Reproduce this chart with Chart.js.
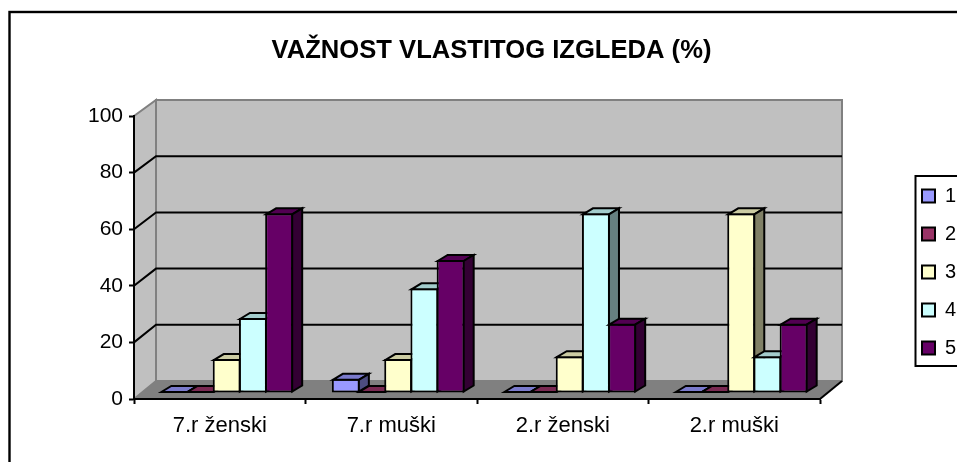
<!DOCTYPE html>
<html>
<head>
<meta charset="utf-8">
<script src="https://cdn.jsdelivr.net/npm/chart.js@4"></script>
<style>
html,body{margin:0;padding:0;background:#fff;overflow:hidden}
canvas{display:block}
</style>
</head>
<body>
<canvas id="c" width="957" height="462"></canvas>
<script>
const categories = ["7.r ženski", "7.r muški", "2.r ženski", "2.r muški"];
const seriesNames = ["1", "2", "3", "4", "5"];
const values1 = [0, 5, 0, 0];
const values2 = [0, 0, 0, 0];
const values3 = [12, 12, 13, 63.5];
const values4 = [26.5, 37, 63.5, 13];
const values5 = [63.5, 47, 24.5, 24.5];
const seriesValues = [values1, values2, values3, values4, values5];
const seriesColors = ["#9999FF", "#993366", "#FFFFCC", "#CCFFFF", "#660066"];
const topColors = ["#7A7ACC", "#7A2952", "#CCCCA3", "#A3CCCC", "#520052"];
const sideColors = ["#4D4D80", "#4D1A33", "#808066", "#668080", "#330033"];
const yTicks = [0, 20, 40, 60, 80, 100];
const titleText = "VAŽNOST VLASTITOG IZGLEDA (%)";

const FONT = "'Liberation Sans', Arial, sans-serif";
const WALL = {dx: 22, dy: -18, squeeze: 0.993}; // depth of the 3D box; back wall is a little shorter
const BAR = {shiftX: 7, shiftY: -6, dx: 10, dy: -6}; // bar front plane and bar depth

function backY(a, p) {
  return a.bottom + WALL.dy + (p - a.bottom) * WALL.squeeze;
}

const threeD = {
  id: "threeD",
  beforeLayout(chart) {
    const l = chart.legend;
    if (!l._wrapped) {
      const fit = l.fit.bind(l);
      l.fit = () => { fit(); l.width = 137; };
      l._wrapped = true;
    }
  },
  afterLayout(chart) {
    const l = chart.legend;
    l.left = 904; l.right = 1010; l.top = 168; l.bottom = 400;
    l.width = 106; l.height = 232;
    const t = chart.titleBlock;
    t.left = 26; t.right = 957; t.width = 931;
  },
  beforeDraw(chart) {
    const c = chart.ctx, a = chart.chartArea, y = chart.scales.y;
    const backTop = backY(a, a.top), backBottom = backY(a, a.bottom);
    c.save();
    // page frame (its right and bottom edges lie outside the picture)
    c.strokeStyle = "#000"; c.lineWidth = 2.4;
    c.strokeRect(9.5, 12, 1000, 500);
    // floor
    c.fillStyle = "#808080";
    c.beginPath();
    c.moveTo(a.left, a.bottom);
    c.lineTo(a.left + WALL.dx, backBottom);
    c.lineTo(a.right + WALL.dx, backBottom);
    c.lineTo(a.right, a.bottom);
    c.closePath(); c.fill();
    // side and back walls
    c.fillStyle = "#C0C0C0"; c.strokeStyle = "#808080"; c.lineWidth = 2;
    c.beginPath();
    c.moveTo(a.left, a.bottom);
    c.lineTo(a.left, a.top);
    c.lineTo(a.left + WALL.dx, backTop);
    c.lineTo(a.left + WALL.dx, backBottom);
    c.closePath(); c.fill(); c.stroke();
    c.beginPath();
    c.rect(a.left + WALL.dx, backTop, a.right - a.left, backBottom - backTop);
    c.fill(); c.stroke();
    // gridlines on walls
    c.strokeStyle = "#000";
    yTicks.forEach(v => {
      const p = y.getPixelForValue(v);
      if (v > 0 && v < 100) {
        const q = backY(a, p);
        c.beginPath();
        c.moveTo(a.left, p);
        c.lineTo(a.left + WALL.dx, q);
        c.lineTo(a.right + WALL.dx, q);
        c.stroke();
      }
    });
    c.beginPath();
    c.moveTo(a.right, a.bottom);
    c.lineTo(a.right + WALL.dx, backBottom);
    c.stroke();
    c.restore();
  },
  // The library's default paint order would put the first series on top;
  // here each series must cover the side face of the one before it.
  beforeDatasetDraw() { return false; },
  afterDatasetsDraw(chart) {
    const c = chart.ctx;
    seriesNames.forEach((_, i) => {
      const meta = chart.getDatasetMeta(i);
      c.save();
      c.translate(BAR.shiftX, BAR.shiftY);
      meta.controller.draw();
      c.strokeStyle = "#000"; c.lineWidth = 2; c.lineJoin = "miter";
      meta.data.forEach(el => {
        const p = el.getProps(["x", "y", "base", "width"], true);
        const l = p.x - p.width / 2 + 1, r = p.x + p.width / 2 - 1;
        const t = Math.min(p.y + 1, p.base - 1), b = p.base - 1;
        c.fillStyle = topColors[i];
        c.beginPath();
        c.moveTo(l, t); c.lineTo(l + BAR.dx, t + BAR.dy);
        c.lineTo(r + BAR.dx, t + BAR.dy); c.lineTo(r, t);
        c.closePath(); c.fill(); c.stroke();
        c.fillStyle = sideColors[i];
        c.beginPath();
        c.moveTo(r, t); c.lineTo(r + BAR.dx, t + BAR.dy);
        c.lineTo(r + BAR.dx, b + BAR.dy); c.lineTo(r, b);
        c.closePath(); c.fill(); c.stroke();
      });
      c.restore();
    });
  },
  afterDraw(chart) {
    const c = chart.ctx;
    c.save();
    c.strokeStyle = "#000"; c.lineWidth = 2;
    c.strokeRect(915.5, 176, 60, 190);
    c.restore();
  }
};

new Chart(document.getElementById("c"), {
  type: "bar",
  data: {
    labels: categories,
    datasets: seriesNames.map((name, i) => ({
      label: name,
      data: seriesValues[i],
      backgroundColor: seriesColors[i],
      borderColor: "#000",
      borderWidth: 2,
      borderSkipped: false,
      inflateAmount: 0,
      clip: false,
      categoryPercentage: 0.764,
      barPercentage: 1.07
    }))
  },
  options: {
    responsive: false,
    animation: false,
    layout: {padding: {left: 0, right: 0, top: 0, bottom: 0}},
    plugins: {
      tooltip: {enabled: false},
      title: {
        display: true,
        text: titleText,
        color: "#000",
        font: {family: FONT, size: 25.6, weight: "bold"},
        padding: {top: 36, bottom: 49.3}
      },
      legend: {
        display: true,
        position: "right",
        align: "start",
        labels: {
          boxWidth: 13, boxHeight: 13, padding: 18, color: "#000",
          font: {family: FONT, size: 20}
        }
      }
    },
    scales: {
      x: {
        offset: true,
        afterFit(s) { s.height = 63; },
        border: {display: true, color: "#000", width: 2},
        grid: {display: true, offset: true, drawOnChartArea: false, drawTicks: true, tickLength: 5, tickColor: "#000", tickWidth: 2},
        ticks: {color: "#000", font: {family: FONT, size: 22}, padding: 9, maxRotation: 0, autoSkip: false}
      },
      y: {
        min: 0, max: 100,
        afterFit(s) { s.width = 134; },
        afterBuildTicks(s) { s.ticks = yTicks.map(v => ({value: v})); },
        border: {display: true, color: "#000", width: 2},
        grid: {display: true, drawOnChartArea: false, drawTicks: true, tickLength: 5, tickColor: "#000", tickWidth: 2},
        ticks: {color: "#000", font: {family: FONT, size: 21}, padding: 6}
      }
    }
  },
  plugins: [threeD]
});
</script>
</body>
</html>
